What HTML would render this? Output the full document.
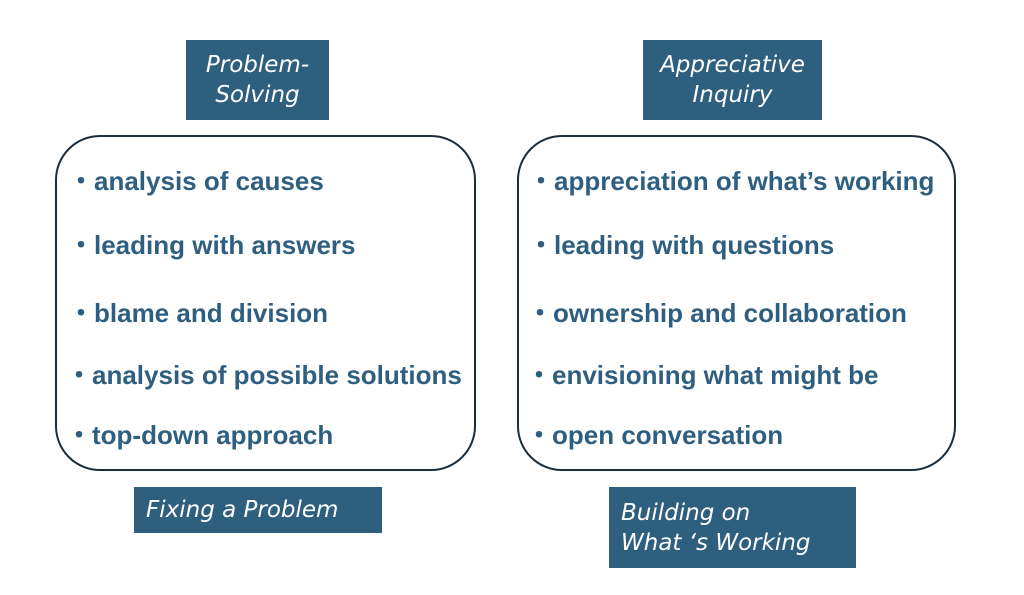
<!DOCTYPE html>
<html><head><style>
body{margin:0;width:1024px;height:595px;background:#fff;position:relative;overflow:hidden;font-family:"Liberation Sans",sans-serif}
.h{position:absolute;background:#2e5f7f;color:#fff;font-family:"Comic Sans MS","DejaVu Sans",cursive;font-size:23px;line-height:30px;text-align:center;display:flex;align-items:center;justify-content:center;font-style:italic}
.b{position:absolute;border:2px solid #1c2d3b;border-radius:45px;box-sizing:border-box}
.t{position:absolute;color:#2f5f80;font-weight:bold;font-size:26px;white-space:nowrap;line-height:30px}
</style></head><body>
<div class="h" style="left:186px;top:40px;width:143px;height:80px">Problem-<br>Solving</div>
<div class="h" style="left:643px;top:40px;width:179px;height:80px">Appreciative<br>Inquiry</div>
<div class="b" style="left:55px;top:135px;width:421px;height:336px"></div>
<div class="b" style="left:517px;top:135px;width:439px;height:336px"></div>
<div class="t" style="left:68px;top:166px">・analysis of causes</div>
<div class="t" style="left:68px;top:230px">・leading with answers</div>
<div class="t" style="left:68px;top:298px">・blame and division</div>
<div class="t" style="left:66px;top:360px">・analysis of possible solutions</div>
<div class="t" style="left:66px;top:420px">・top-down approach</div>
<div class="t" style="left:528px;top:166px">・appreciation of what’s working</div>
<div class="t" style="left:528px;top:230px">・leading with questions</div>
<div class="t" style="left:527px;top:298px">・ownership and collaboration</div>
<div class="t" style="left:526px;top:360px">・envisioning what might be</div>
<div class="t" style="left:526px;top:420px">・open conversation</div>
<div class="h" style="left:134px;top:487px;width:248px;height:46px;justify-content:flex-start;padding-left:12px;box-sizing:border-box">Fixing a Problem</div>
<div class="h" style="left:609px;top:487px;width:247px;height:81px;justify-content:flex-start;text-align:left;padding-left:12px;box-sizing:border-box">Building on<br>What ‘s Working</div>
</body></html>
